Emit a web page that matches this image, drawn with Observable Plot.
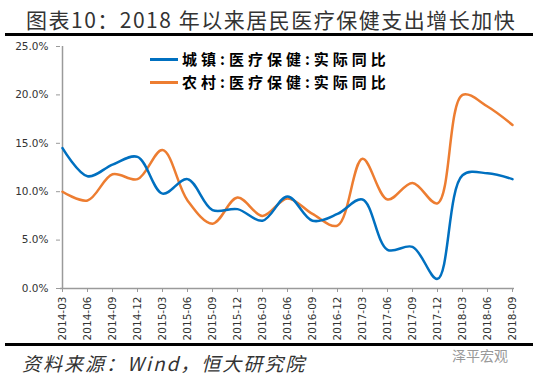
<!DOCTYPE html>
<html>
<head>
<meta charset="utf-8">
<script src="https://cdn.jsdelivr.net/npm/d3@7"></script>
<script src="https://cdn.jsdelivr.net/npm/@observablehq/plot@0.6"></script>
<style>
  html, body { margin: 0; padding: 0; background: #fff; }
  #page { position: relative; width: 538px; height: 377px; overflow: hidden; background: #fff; }
  #title { position: absolute; left: 26px; top: 4px; font-family: "Noto Sans CJK SC", sans-serif; font-size: 21px; letter-spacing: 1.5px; color: #333; white-space: nowrap; }
  .rule { position: absolute; left: 5px; width: 528px; height: 3px; background: #000; }
  #chart { position: absolute; left: 0; top: 37px; }
  .lg { position: absolute; left: 150px; height: 22px; line-height: 22px; white-space: nowrap; font-family: "Noto Sans CJK SC", sans-serif; font-weight: bold; font-size: 15px; letter-spacing: 4px; color: #000; }
  .lg .sw { display: inline-block; width: 28px; height: 3px; vertical-align: middle; margin-right: 4px; position: relative; top: -1px; }
  #source { position: absolute; left: 22px; top: 349px; font-family: "Noto Sans CJK SC", sans-serif; font-size: 19px; font-style: italic; letter-spacing: 2px; color: #333; white-space: nowrap; }
  #wm { position: absolute; left: 452px; top: 345px; font-family: "Noto Sans CJK SC", sans-serif; font-size: 14px; color: #999; white-space: nowrap; }
</style>
</head>
<body>
<div id="page">
  <div id="title">图表10：2018 年以来居民医疗保健支出增长加快</div>
  <div class="rule" style="top:33px"></div>
  <div id="chart"></div>
  <div id="legend"></div>
  <div class="rule" style="top:343px"></div>
  <div id="source">资料来源：Wind，恒大研究院</div>
  <div id="wm">泽平宏观</div>
</div>
<script>
const dates = ["2014-03","2014-06","2014-09","2014-12","2015-03","2015-06","2015-09","2015-12","2016-03","2016-06","2016-09","2016-12","2017-03","2017-06","2017-09","2017-12","2018-03","2018-06","2018-09"];
const urban = [14.5, 11.6, 12.8, 13.6, 9.8, 11.3, 8.1, 8.2, 7.0, 9.5, 7.0, 7.7, 9.2, 4.0, 4.3, 1.0, 11.7, 11.9, 11.3];
const rural = [10.0, 9.1, 11.8, 11.3, 14.3, 9.1, 6.7, 9.4, 7.5, 9.3, 7.7, 6.5, 13.4, 9.2, 10.9, 8.8, 20.0, 18.8, 16.9];
const seriesNames = ["城镇:医疗保健:实际同比", "农村:医疗保健:实际同比"];
const colors = ["#0070C0", "#ED7D31"];
const yTicks = [0, 5, 10, 15, 20, 25];

const urbanData = dates.map((d, i) => ({date: d, value: urban[i]}));
const ruralData = dates.map((d, i) => ({date: d, value: rural[i]}));

const chart = Plot.plot({
  width: 538,
  height: 305,
  marginTop: 9,
  marginBottom: 54,
  marginLeft: 60,
  marginRight: 24,
  style: {fontFamily: "DejaVu Sans, sans-serif", fontSize: "10px", color: "#333", background: "transparent"},
  x: {type: "point", domain: dates, padding: 0},
  y: {domain: [0, 25]},
  marks: [
    Plot.ruleY([0], {stroke: "#9a9a9a", strokeWidth: 1.5}),
    Plot.ruleX([dates[0]], {stroke: "#9a9a9a", strokeWidth: 1.5}),
    Plot.axisY({ticks: yTicks, tickFormat: d => d.toFixed(1) + "%", tickSize: 4, tickPadding: 8, label: null, stroke: "#9a9a9a", fill: "#333", fontSize: 10.5}),
    Plot.axisX({tickRotate: -90, tickSize: 4, tickPadding: 4, label: null, stroke: "#9a9a9a", fill: "#333", fontSize: 10.5}),
    Plot.line(ruralData, {x: "date", y: "value", stroke: colors[1], strokeWidth: 2.5, curve: "catmull-rom"}),
    Plot.line(urbanData, {x: "date", y: "value", stroke: colors[0], strokeWidth: 2.5, curve: "catmull-rom"})
  ]
});
document.getElementById("chart").appendChild(chart);

const page = document.getElementById("page");
seriesNames.forEach((name, i) => {
  const row = document.createElement("div");
  row.className = "lg";
  row.style.top = (48 + i * 22.5) + "px";
  const sw = document.createElement("span");
  sw.className = "sw";
  sw.style.background = colors[i];
  row.appendChild(sw);
  row.appendChild(document.createTextNode(name));
  page.appendChild(row);
});
</script>
</body>
</html>
